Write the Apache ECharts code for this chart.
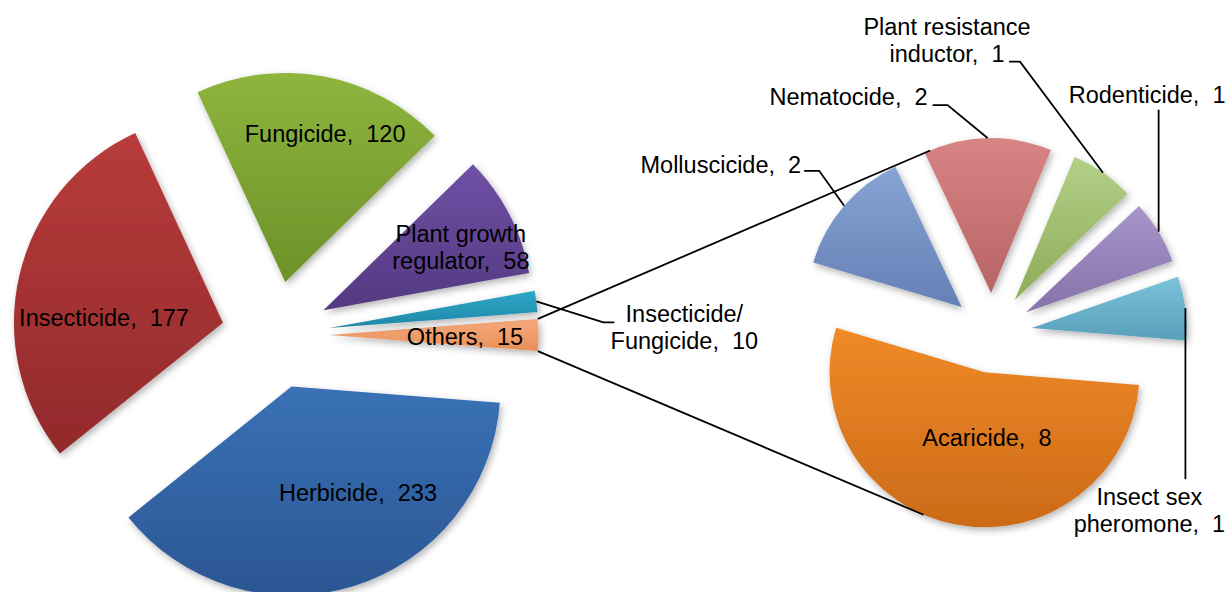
<!DOCTYPE html>
<html><head><meta charset="utf-8">
<script src="https://cdn.jsdelivr.net/npm/echarts@6/dist/echarts.min.js"></script>
<style>html,body{margin:0;padding:0;background:#fff}#c{width:1229px;height:592px}</style>
</head><body><div id="c"></div>
<script>
// ---------------- data ----------------
const mainCategories = ['Others', 'Herbicide', 'Insecticide', 'Fungicide', 'Plant growth regulator', 'Insecticide/Fungicide'];
const mainValues = [15, 233, 177, 120, 58, 10];
const otherCategories = ['Acaricide', 'Molluscicide', 'Nematocide', 'Plant resistance inductor', 'Rodenticide', 'Insect sex pheromone'];
const otherValues = [8, 2, 2, 1, 1, 1];

// ---------------- style ----------------
const mainColors = [
  ['#f7ab7c', '#e98f5a'], ['#3a71b6', '#2b5693'], ['#b83b3b', '#922a2b'],
  ['#8eb53e', '#6c9128'], ['#7050a5', '#533981'], ['#2ea7c8', '#1f87a6']
];
const otherColors = [
  ['#f08a28', '#cc6a18'], ['#88a4d4', '#6480b5'], ['#d88484', '#b86464'],
  ['#b3d088', '#8cac58'], ['#a896ca', '#8672aa'], ['#7ac3da', '#5a9fba']
];
const wrap = {
  'Plant growth regulator': 'Plant growth\nregulator',
  'Insecticide/Fungicide': 'Insecticide/\nFungicide',
  'Plant resistance inductor': 'Plant resistance\ninductor',
  'Insect sex pheromone': 'Insect sex\npheromone'
};
const LEFT = {cx: 275.5, cy: 335, r: 209, off: 54};
const RIGHT = {cx: 992, cy: 333, r: 155, off: 40};
const FONT = {fontSize: 23.5, fontFamily: '"Liberation Sans", Arial, sans-serif', lineHeight: 27, fill: '#000'};
const LINE = {stroke: '#000', lineWidth: 1.8};
// inside labels: [distance from slice apex, angle in degrees]
const insidePos = {
  'Herbicide': [125.5, -58], 'Insecticide': [119, 177.7], 'Fungicide': [153, 74.9],
  'Plant growth regulator': [151, 24.5], 'Others': [135.5, -0.8], 'Acaricide': [65.7, -88]
};
// outside labels: leader legs from the arc midpoint, then text offset and alignment
const outsidePos = {
  'Insecticide/Fungicide': {legs: [[67, 21], [11, 0]], text: [70, 5.5], align: 'center'},
  'Molluscicide': {legs: [[-25, -35], [-15, 0]], text: [-3, -6], align: 'right'},
  'Nematocide': {legs: [[-40, -33], [-15, 0]], text: [-5, -8], align: 'right'},
  'Plant resistance inductor': {legs: [[-83, -111], [-11, 0]], text: [-62, -21.5], align: 'center'},
  'Rodenticide': {legs: [[0, -122]], text: [-11.5, -15], align: 'center'},
  'Insect sex pheromone': {legs: [[0, 171]], text: [-36, 31.5], align: 'center'}
};

// ---------------- geometry ----------------
const sum = a => a.reduce((s, v) => s + v, 0);
const RAD = Math.PI / 180;
const mainStartAngle = 180 * mainValues[0] / sum(mainValues); // "Others" centred on 3 o'clock
const otherStartAngle = -4.7;

function slices(values, startDeg, g) {
  const tot = sum(values); let cur = -startDeg * RAD;
  return values.map(v => {
    const a = v / tot * 2 * Math.PI, a0 = cur, a1 = cur + a, mid = cur + a / 2; cur = a1;
    const ax = g.cx + g.off * Math.cos(mid), ay = g.cy + g.off * Math.sin(mid);
    return {a0, a1, mid, ax, ay, r: g.r, px: ax + g.r * Math.cos(mid), py: ay + g.r * Math.sin(mid)};
  });
}
const Lsl = slices(mainValues, mainStartAngle, LEFT);
const Rsl = slices(otherValues, otherStartAngle, RIGHT);

const grad = c => ({type: 'linear', x: 0, y: 0, x2: 0, y2: 1, colorStops: [{offset: 0, color: c[0]}, {offset: 1, color: c[1]}]});
const labelText = (n, v) => (wrap[n] || n) + ',  ' + v;

const graphics = [];
function addLabel(name, value, sl) {
  if (insidePos[name]) {
    const [d, a] = insidePos[name];
    graphics.push({type: 'text', z: 100, silent: true, style: Object.assign({
      text: labelText(name, value), x: sl.ax + d * Math.cos(a * RAD), y: sl.ay - d * Math.sin(a * RAD),
      align: 'center', verticalAlign: 'middle', textAlign: 'center', textVerticalAlign: 'middle'}, FONT)});
  } else if (outsidePos[name]) {
    const o = outsidePos[name];
    const pts = [[sl.px, sl.py]];
    o.legs.forEach(l => { const p = pts[pts.length - 1]; pts.push([p[0] + l[0], p[1] + l[1]]); });
    const e = pts[pts.length - 1];
    graphics.push({type: 'polyline', z: 99, silent: true, shape: {points: pts}, style: Object.assign({fill: null}, LINE)});
    graphics.push({type: 'text', z: 100, silent: true, style: Object.assign({
      text: labelText(name, value), x: e[0] + o.text[0], y: e[1] + o.text[1],
      align: o.align, verticalAlign: 'middle', textAlign: o.align, textVerticalAlign: 'middle'}, FONT)});
  }
}
mainCategories.forEach((n, i) => addLabel(n, mainValues[i], Lsl[i]));
otherCategories.forEach((n, i) => addLabel(n, otherValues[i], Rsl[i]));

// connector lines from the "Others" slice to the secondary pie (tangent to its exploded slices)
const oth = Lsl[0];
const Ptop = [oth.ax + LEFT.r * Math.cos(oth.a0), oth.ay + LEFT.r * Math.sin(oth.a0)];
const Pbot = [oth.ax + LEFT.r * Math.cos(oth.a1), oth.ay + LEFT.r * Math.sin(oth.a1)];
function hullPoint(P, sign) {
  let best = null, bestA = sign < 0 ? Infinity : -Infinity;
  Rsl.forEach(s => {
    for (let k = 0; k <= 200; k++) {
      const t = s.a0 + (s.a1 - s.a0) * k / 200;
      const q = [s.ax + s.r * Math.cos(t), s.ay + s.r * Math.sin(t)];
      const ang = Math.atan2(q[1] - P[1], q[0] - P[0]);
      if (sign < 0 ? ang < bestA : ang > bestA) { bestA = ang; best = q; }
    }
  });
  return best;
}
const Qtop = hullPoint(Ptop, -1), Qbot = hullPoint(Pbot, 1);
graphics.push({type: 'line', z: 98, silent: true, shape: {x1: Ptop[0], y1: Ptop[1], x2: Qtop[0], y2: Qtop[1]}, style: Object.assign({}, LINE)});
graphics.push({type: 'line', z: 98, silent: true, shape: {x1: Pbot[0], y1: Pbot[1], x2: Qbot[0], y2: Qbot[1]}, style: Object.assign({}, LINE)});

// ---------------- chart ----------------
const shadow = {shadowBlur: 7, shadowOffsetX: 2, shadowOffsetY: 3, shadowColor: 'rgba(0,0,0,0.30)'};
function pieSeries(cats, vals, colors, g, startAngle) {
  return {
    type: 'pie', center: [g.cx, g.cy], radius: g.r, startAngle: startAngle, clockwise: true,
    selectedMode: 'multiple', selectedOffset: g.off, silent: true, animation: false,
    label: {show: false}, labelLine: {show: false}, emphasis: {disabled: true},
    select: {itemStyle: {borderWidth: 0}},
    data: cats.map((n, i) => ({name: n, value: vals[i], selected: true,
      itemStyle: Object.assign({color: grad(colors[i]), borderWidth: 0}, shadow)}))
  };
}
const chart = echarts.init(document.getElementById('c'), null, {renderer: 'svg', width: 1229, height: 592});
chart.setOption({
  backgroundColor: '#ffffff', animation: false, tooltip: {show: false}, legend: {show: false},
  series: [
    pieSeries(mainCategories, mainValues, mainColors, LEFT, mainStartAngle),
    pieSeries(otherCategories, otherValues, otherColors, RIGHT, otherStartAngle)
  ],
  graphic: {elements: graphics}
});
</script></body></html>
